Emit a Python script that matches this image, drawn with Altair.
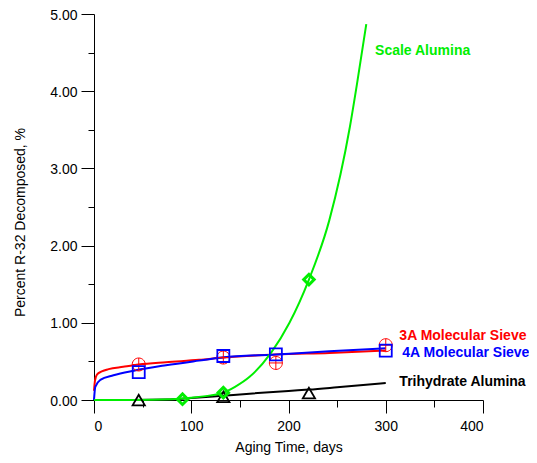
import altair as alt
import pandas as pd

# ---------------- data ----------------
series_names = ["3A Molecular Sieve", "4A Molecular Sieve", "Scale Alumina", "Trihydrate Alumina"]

# measured points (aging time in days, percent R-32 decomposed)
sieve3a_days = [46, 133, 187, 300]
sieve3a_pct = [0.46, 0.55, 0.48, 0.71]

sieve4a_days = [46, 133, 187, 300]
sieve4a_pct = [0.36, 0.57, 0.59, 0.64]

scale_days = [91, 133, 221]
scale_pct = [0.01, 0.095, 1.56]

trihydrate_days = [46, 133, 221]
trihydrate_pct = [0.0, 0.04, 0.09]

# fitted curves
fit3a_days = [0, 1, 3, 8, 15, 30, 46, 74, 108, 133, 187, 242, 300]
fit3a_pct = [0.12, 0.25, 0.33, 0.37, 0.40, 0.43, 0.46, 0.49, 0.52, 0.55, 0.59, 0.61, 0.64]

fit4a_days = [0, 1.3, 6.5, 20, 41, 74, 108, 132, 187, 242, 300]
fit4a_pct = [0.0, 0.17, 0.26, 0.32, 0.38, 0.45, 0.51, 0.55, 0.59, 0.63, 0.67]

fitscale_days = [0, 40, 80, 100, 120, 132, 145, 160, 182, 201, 221, 242, 263, 271, 280]
fitscale_pct = [0.0, 0.0, 0.01, 0.03, 0.06, 0.09, 0.17, 0.30, 0.61, 1.0, 1.56, 2.33, 3.53, 4.14, 4.87]

fittri_days = [0, 40, 75, 100, 132, 160, 200, 221, 250, 300]
fittri_pct = [0.0, 0.0, 0.005, 0.025, 0.055, 0.082, 0.118, 0.135, 0.165, 0.22]

# series labels and their anchor positions (data coordinates)
label_days = [289, 314, 317, 314]
label_pct = [4.52, 0.83, 0.61, 0.23]
label_series = ["Scale Alumina", "3A Molecular Sieve", "4A Molecular Sieve", "Trihydrate Alumina"]

x_ticks = [0, 50, 100, 150, 200, 250, 300, 350, 400]
y_ticks = [0, 0.5, 1, 1.5, 2, 2.5, 3, 3.5, 4, 4.5, 5]

# ---------------- styles ----------------
colors = {
    "3A Molecular Sieve": "#ff0000",
    "4A Molecular Sieve": "#0000ff",
    "Scale Alumina": "#00ee00",
    "Trihydrate Alumina": "#000000",
}
FONT = "Liberation Sans"

# ---------------- tables ----------------
def table(name, days, pct):
    return pd.DataFrame({"series": name, "day": days, "pct": pct, "idx": range(len(days))})

curves = pd.concat([
    table("Trihydrate Alumina", fittri_days, fittri_pct),
    table("3A Molecular Sieve", fit3a_days, fit3a_pct),
    table("4A Molecular Sieve", fit4a_days, fit4a_pct),
    table("Scale Alumina", fitscale_days, fitscale_pct),
])
pts = {
    "3A Molecular Sieve": table("3A Molecular Sieve", sieve3a_days, sieve3a_pct),
    "4A Molecular Sieve": table("4A Molecular Sieve", sieve4a_days, sieve4a_pct),
    "Scale Alumina": table("Scale Alumina", scale_days, scale_pct),
    "Trihydrate Alumina": table("Trihydrate Alumina", trihydrate_days, trihydrate_pct),
}
labels = pd.DataFrame({"series": label_series, "day": label_days, "pct": label_pct})

color_scale = alt.Scale(domain=list(colors.keys()), range=list(colors.values()))

x_enc = alt.X(
    "day:Q",
    scale=alt.Scale(domain=[0, 400], nice=False, zero=False),
    axis=alt.Axis(
        title="Aging Time, days",
        grid=False,
        values=x_ticks,
        labelExpr="datum.value % 100 === 0 ? datum.label : ''",
        tickSize={"condition": {"test": "datum.value % 100 === 0", "value": 13}, "value": 7},
        labelPadding=6,
        titlePadding=7,
    ),
)
y_enc = alt.Y(
    "pct:Q",
    scale=alt.Scale(domain=[0, 5], nice=False, zero=False),
    axis=alt.Axis(
        title="Percent R-32 Decomposed, %",
        grid=False,
        values=y_ticks,
        format=".2f",
        labelExpr="datum.value % 1 === 0 ? datum.label : ''",
        tickSize={"condition": {"test": "datum.value % 1 === 0", "value": 13}, "value": 6},
        labelPadding=4,
        labelOffset=1,
        titleX=-74,
        titleY=208,
        titleBaseline="middle",
    ),
)

lines = alt.Chart(curves).mark_line(strokeWidth=2, interpolate="monotone").encode(
    x=x_enc, y=y_enc,
    color=alt.Color("series:N", scale=color_scale, legend=None),
    detail="series:N",
    order="idx:Q",
)

circle_cross = "M-1,0A1,1,0,1,1,1,0A1,1,0,1,1,-1,0ZM-1,0L1,0M0,-1L0,1"

def markers(name, shape, size, sw):
    return alt.Chart(pts[name]).mark_point(
        shape=shape, size=size, filled=False, strokeWidth=sw, stroke=colors[name], opacity=1
    ).encode(x=x_enc, y=y_enc)

m_tri = markers("Trihydrate Alumina", "triangle-up", 150, 1.8)
m_3a = markers("3A Molecular Sieve", circle_cross, 169, 1.0)
m_4a = markers("4A Molecular Sieve", "square", 144, 1.8)
m_sc = markers("Scale Alumina", "diamond", 110, 3)

text = alt.Chart(labels).mark_text(
    align="left", baseline="middle", font=FONT, fontSize=14, fontWeight="bold"
).encode(
    x=x_enc, y=y_enc,
    text="series:N",
    color=alt.Color("series:N", scale=color_scale, legend=None),
)

chart = alt.layer(lines, m_tri, m_3a, m_4a, m_sc, text).properties(
    width=389,
    height=386,
    background="white",
    autosize=alt.AutoSizeParams(type="none"),
    padding={"left": 86, "top": 6, "right": 46, "bottom": 55},
).configure_view(stroke=None).configure_axis(
    grid=False,
    domainColor="black",
    domainWidth=1,
    tickColor="black",
    tickWidth=1,
    labelFont=FONT,
    labelFontSize=14,
    labelColor="black",
    titleFont=FONT,
    titleFontSize=14,
    titleFontWeight="normal",
    titleColor="black",
)

chart.save("out.html", embed_options={"renderer": "svg", "actions": False})
